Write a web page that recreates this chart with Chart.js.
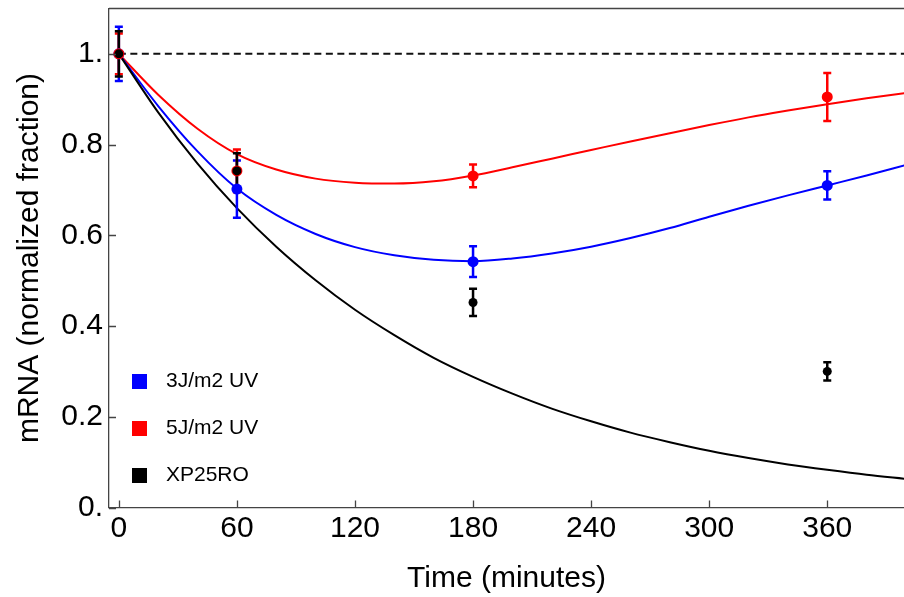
<!DOCTYPE html>
<html>
<head>
<meta charset="utf-8">
<script src="https://cdn.jsdelivr.net/npm/chart.js@4.4.1/dist/chart.umd.min.js"></script>
<style>
  body { margin: 0; background: #fff; }
  canvas { display: block; }
</style>
</head>
<body>
<canvas id="mrnaChart" width="904" height="597"></canvas>
<script>
// measured points (minutes) with error bars
const timePoints = [0, 60, 180, 360];
const uv3Values = [1.0, 0.702, 0.542, 0.710];
const uv3Errors = [0.060, 0.063, 0.034, 0.031];
const uv5Values = [1.0, 0.742, 0.731, 0.905];
const uv5Errors = [0.045, 0.047, 0.025, 0.053];
const xpValues = [1.0, 0.742, 0.452, 0.300];
const xpErrors = [0.050, 0.039, 0.030, 0.020];

const fitTimes = [0, 20, 40, 60, 80, 100, 120, 140, 160, 180, 200, 220, 240, 260, 280, 300, 320, 340, 360, 380, 400];
const uv3Fit = [1.000, 0.885, 0.785, 0.703, 0.645, 0.603, 0.574, 0.556, 0.546, 0.543, 0.549, 0.560, 0.575, 0.594, 0.616, 0.641, 0.665, 0.688, 0.710, 0.732, 0.755];
const uv5Fit = [1.000, 0.910, 0.835, 0.779, 0.745, 0.725, 0.716, 0.714, 0.719, 0.732, 0.750, 0.769, 0.788, 0.807, 0.825, 0.843, 0.860, 0.875, 0.889, 0.902, 0.914];
const xpFit = [1.000, 0.871, 0.758, 0.660, 0.575, 0.501, 0.436, 0.380, 0.330, 0.288, 0.251, 0.218, 0.190, 0.165, 0.144, 0.125, 0.109, 0.095, 0.083, 0.072, 0.063];

const referenceLevel = 1.0;
const seriesNames = ['3J/m2 UV', '5J/m2 UV', 'XP25RO'];
const xTickValues = [0, 60, 120, 180, 240, 300, 360];
const yTickValues = [0, 0.2, 0.4, 0.6, 0.8, 1.0];
const yTickLabels = ['0.', '0.2', '0.4', '0.6', '0.8', '1.'];

const FONT = "'Liberation Sans', Arial, Helvetica, sans-serif";

function toXY(xs, ys) {
    return xs.map((x, i) => ({ x: x, y: ys[i] }));
}

function fitLine(label, values, color) {
    return {
        label: label,
        data: toXY(fitTimes, values),
        showLine: true,
        borderColor: color,
        borderWidth: 2,
        pointRadius: 0,
        cubicInterpolationMode: 'monotone',
        order: 20
    };
}

function pointSet(label, values, errors, color, radius, order) {
    return {
        label: label,
        data: toXY(timePoints, values),
        errors: errors,
        backgroundColor: color,
        borderColor: color,
        pointRadius: radius,
        pointBorderWidth: 0,
        showLine: false,
        order: order
    };
}

// error bars are drawn just before the first point set
let barsDrawn = false;
const errorBarPlugin = {
    id: 'errorBars',
    beforeDatasetsDraw() { barsDrawn = false; },
    beforeDatasetDraw(chart, args) {
        const ds = chart.data.datasets[args.index];
        if (barsDrawn || !ds.errors) return;
        barsDrawn = true;
        const ctx = chart.ctx;
        const xs = chart.scales.x, ys = chart.scales.y;
        ctx.save();
        // blue, red, black
        [2, 3, 4].forEach(i => {
            const set = chart.data.datasets[i];
            ctx.strokeStyle = set.borderColor;
            ctx.lineWidth = 2.5;
            set.data.forEach((p, k) => {
                const px = xs.getPixelForValue(p.x);
                const top = ys.getPixelForValue(p.y + set.errors[k]);
                const bot = ys.getPixelForValue(p.y - set.errors[k]);
                ctx.beginPath();
                ctx.moveTo(px, top); ctx.lineTo(px, bot);
                ctx.moveTo(px - 4, top); ctx.lineTo(px + 4, top);
                ctx.moveTo(px - 4, bot); ctx.lineTo(px + 4, bot);
                ctx.stroke();
            });
        });
        ctx.restore();
    }
};

// inward tick marks, top frame line and the legend
const framePlugin = {
    id: 'frame',
    afterDraw(chart) {
        const ctx = chart.ctx;
        const area = chart.chartArea;
        const xs = chart.scales.x, ys = chart.scales.y;
        ctx.save();
        ctx.strokeStyle = '#444';
        ctx.lineWidth = 1.3;
        ctx.beginPath();
        ctx.moveTo(area.left, area.top); ctx.lineTo(area.right, area.top);
        xs.ticks.forEach(t => {
            const px = Math.round(xs.getPixelForValue(t.value)) + 0.5;
            ctx.moveTo(px, area.bottom); ctx.lineTo(px, area.bottom - 7);
        });
        ys.ticks.forEach(t => {
            const py = Math.round(ys.getPixelForValue(t.value)) + 0.5;
            ctx.moveTo(area.left, py); ctx.lineTo(area.left + 7, py);
        });
        ctx.stroke();

        ctx.font = '21px ' + FONT;
        ctx.textBaseline = 'middle';
        ctx.textAlign = 'left';
        [2, 3, 4].forEach((i, k) => {
            const set = chart.data.datasets[i];
            const cy = 381.5 + k * 47;
            ctx.fillStyle = set.backgroundColor;
            ctx.fillRect(132, cy - 7.5, 15, 15);
            ctx.fillStyle = '#000';
            ctx.fillText(set.label, 166, cy);
        });
        ctx.restore();
    }
};

document.addEventListener("DOMContentLoaded", function() {
    const ctx = document.getElementById("mrnaChart").getContext("2d");

    new Chart(ctx, {
        type: 'scatter',
        data: {
            datasets: [
                {
                    label: 'reference',
                    data: [{ x: fitTimes[0], y: referenceLevel }, { x: fitTimes[fitTimes.length - 1], y: referenceLevel }],
                    showLine: true,
                    borderColor: '#111',
                    borderWidth: 2,
                    borderDash: [7, 4.5],
                    pointRadius: 0,
                    order: 21
                },
                fitLine(seriesNames[2], xpFit, '#000000'),
                pointSet(seriesNames[0], uv3Values, uv3Errors, '#0000ff', 5.5, 3),
                pointSet(seriesNames[1], uv5Values, uv5Errors, '#ff0000', 5.5, 2),
                pointSet(seriesNames[2], xpValues, xpErrors, '#000000', 4.5, 1),
                fitLine(seriesNames[0], uv3Fit, '#0000ff'),
                fitLine(seriesNames[1], uv5Fit, '#ff0000')
            ]
        },
        options: {
            responsive: false,
            animation: false,
            layout: { autoPadding: false, padding: { top: 8.5, right: 0, left: 0, bottom: 0 } },
            plugins: {
                legend: { display: false },
                tooltip: { enabled: false }
            },
            scales: {
                x: {
                    type: 'linear',
                    min: -5,
                    max: 399,
                    afterBuildTicks: s => { s.ticks = xTickValues.map(v => ({ value: v })); },
                    afterFit: s => {
                        s.height = 89.5;
                        s.paddingLeft = 0; s.paddingRight = 0;
                        s.paddingTop = 0; s.paddingBottom = 0;
                    },
                    grid: { display: false, drawTicks: false },
                    border: { display: true, color: '#444', width: 1.3 },
                    ticks: {
                        padding: 3,
                        color: '#000',
                        font: { family: FONT, size: 30 },
                        maxRotation: 0,
                        callback: v => String(v)
                    },
                    title: {
                        display: true,
                        text: 'Time (minutes)',
                        color: '#000',
                        font: { family: FONT, size: 30 },
                        padding: { top: 0, bottom: 0 }
                    }
                },
                y: {
                    type: 'linear',
                    min: 0,
                    max: 1.1,
                    afterBuildTicks: s => { s.ticks = yTickValues.map(v => ({ value: v })); },
                    afterFit: s => {
                        s.width = 109;
                        s.paddingLeft = 0; s.paddingRight = 0;
                        s.paddingTop = 0; s.paddingBottom = 0;
                    },
                    grid: { display: false, drawTicks: false },
                    border: { display: true, color: '#444', width: 1.3 },
                    ticks: {
                        padding: 6,
                        color: '#000',
                        font: { family: FONT, size: 30 },
                        callback: (v, i) => yTickLabels[i]
                    },
                    title: {
                        display: true,
                        text: 'mRNA (normalized fraction)',
                        color: '#000',
                        font: { family: FONT, size: 30 },
                        padding: { top: 12, bottom: 0 }
                    }
                }
            }
        },
        plugins: [errorBarPlugin, framePlugin]
    });
});
</script>
</body>
</html>
